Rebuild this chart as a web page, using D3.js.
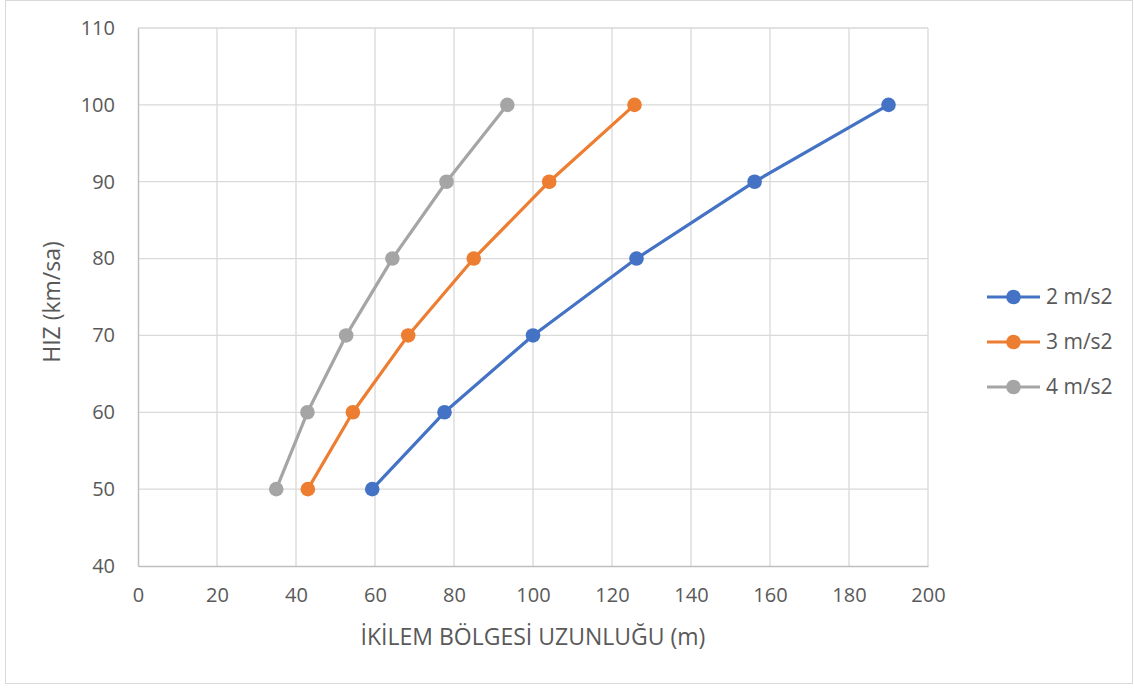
<!DOCTYPE html>
<html>
<head>
<meta charset="utf-8">
<script src="https://cdn.jsdelivr.net/npm/d3@7"></script>
<style>
  body { margin: 0; background: #fff; }
  svg { display: block; font-family: "Open Sans", sans-serif; }
</style>
</head>
<body>
<svg id="chart" width="1134" height="688"></svg>
<script>
// speeds (km/sa) on the y axis
var speeds = [50, 60, 70, 80, 90, 100];

// lengths (m) per deceleration
var len2 = [59.3, 77.6, 100, 126.2, 156.1, 190];
var len3 = [43, 54.4, 68.4, 85, 104.1, 125.7];
var len4 = [35, 42.9, 52.7, 64.4, 78.1, 93.5];

var seriesNames = ["2 m/s2", "3 m/s2", "4 m/s2"];
var seriesColors = ["#4472C4", "#ED7D31", "#A5A5A5"];
var xTicks = [0, 20, 40, 60, 80, 100, 120, 140, 160, 180, 200];
var yTicks = [40, 50, 60, 70, 80, 90, 100, 110];

var series = [len2, len3, len4].map(function (vals, i) {
  return {
    name: seriesNames[i],
    color: seriesColors[i],
    pts: vals.map(function (v, j) { return { x: v, y: speeds[j] }; })
  };
});

var svg = d3.select("#chart");
var plot = { left: 138, right: 928, top: 28, bottom: 566 };

// chart border
svg.append("rect")
  .attr("x", 5.5).attr("y", 0.5)
  .attr("width", 1127).attr("height", 683)
  .attr("fill", "#fff").attr("stroke", "#d9d9d9");

var x = d3.scaleLinear().domain([0, 200]).range([plot.left, plot.right]);
var y = d3.scaleLinear().domain([40, 110]).range([plot.bottom, plot.top]);

// grid
svg.append("g").selectAll("line").data(xTicks.slice(1)).enter().append("line")
  .attr("x1", function (d) { return x(d); }).attr("x2", function (d) { return x(d); })
  .attr("y1", plot.top).attr("y2", plot.bottom)
  .attr("stroke", "#d9d9d9").attr("stroke-width", 1.3);
svg.append("g").selectAll("line").data(yTicks.slice(1)).enter().append("line")
  .attr("x1", plot.left).attr("x2", plot.right)
  .attr("y1", function (d) { return y(d); }).attr("y2", function (d) { return y(d); })
  .attr("stroke", "#d9d9d9").attr("stroke-width", 1.3);

// axes
var xAxis = svg.append("g")
  .attr("transform", "translate(0," + plot.bottom + ")")
  .call(d3.axisBottom(x).tickValues(xTicks).tickSize(0).tickPadding(22));
var yAxis = svg.append("g")
  .attr("transform", "translate(" + plot.left + ",0)")
  .call(d3.axisLeft(y).tickValues(yTicks).tickSize(0).tickPadding(23));

[xAxis, yAxis].forEach(function (a) {
  a.select(".domain").attr("stroke", "#bfbfbf").attr("stroke-width", 1.5);
  a.selectAll("text").attr("fill", "#595959").style("font-size", "20px")
    .style("font-family", "'Open Sans', sans-serif");
});

// axis titles
svg.append("text")
  .attr("x", 533).attr("y", 645)
  .attr("text-anchor", "middle").attr("fill", "#595959")
  .style("font-size", "23px")
  .text("İKİLEM BÖLGESİ UZUNLUĞU (m)");
svg.append("text")
  .attr("transform", "translate(60,302) rotate(-90)")
  .attr("text-anchor", "middle").attr("fill", "#595959")
  .style("font-size", "23px")
  .text("HIZ (km/sa)");

// lines and markers
var line = d3.line().x(function (d) { return x(d.x); }).y(function (d) { return y(d.y); });

series.forEach(function (s) {
  svg.append("path").datum(s.pts)
    .attr("d", line).attr("fill", "none")
    .attr("stroke", s.color).attr("stroke-width", 3.2)
    .attr("stroke-linejoin", "round");
  svg.append("g").selectAll("circle").data(s.pts).enter().append("circle")
    .attr("cx", function (d) { return x(d.x); })
    .attr("cy", function (d) { return y(d.y); })
    .attr("r", 7.3).attr("fill", s.color);
});

// legend
var legend = svg.append("g").selectAll("g").data(series).enter().append("g")
  .attr("transform", function (d, i) { return "translate(987," + (297 + i * 45) + ")"; });
legend.append("line").attr("x1", 0).attr("x2", 53)
  .attr("stroke", function (d) { return d.color; }).attr("stroke-width", 3.2);
legend.append("circle").attr("cx", 26.5).attr("r", 7.3)
  .attr("fill", function (d) { return d.color; });
legend.append("text").attr("x", 59).attr("dy", "0.35em")
  .attr("fill", "#595959").style("font-size", "21px")
  .text(function (d) { return d.name; });
</script>
</body>
</html>
